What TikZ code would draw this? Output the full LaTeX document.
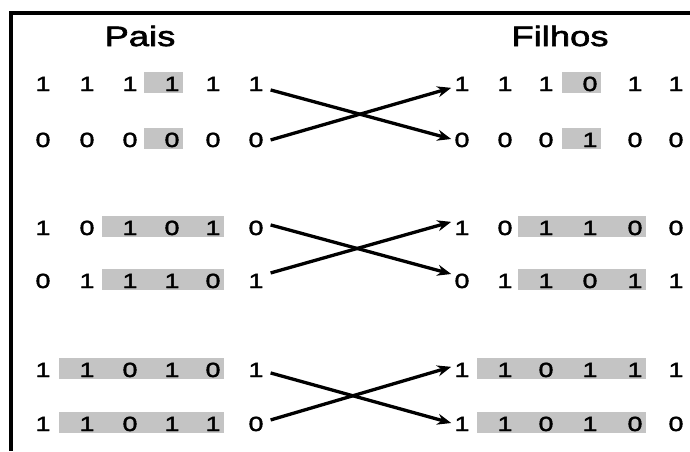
\documentclass[tikz,border=0pt]{standalone}
\usepackage{fontspec}
\setmainfont[FakeStretch=1.3, FakeBold=2.2]{Liberation Sans}
\usetikzlibrary{arrows.meta,backgrounds,calc}

\begin{document}
\begin{tikzpicture}[x=1pt, y=-1pt, > = {Stealth[length=14pt,width=11pt]}] % y grows downwards here
  \tikzset{
    bit/.style={anchor=base, inner xsep=7pt, inner ysep=1pt, font=\fontsize{20.5}{21}\selectfont},
    title/.style={anchor=base, font=\fontsize{28}{30}\selectfont},
    cut/.style={fill=black!23},
    swap/.style={->, line width=3.3pt, shorten >=-4pt}
  }
  \useasboundingbox (0,0) rectangle (690,451);
  \draw[line width=3.4pt] (690,13) -- (11,13) -- (11,451);

  \node[title] (pais) at (140,46) {Pais};
  \node[title] (filhos) at (560,46) {Filhos};

  % parents: nodes p11 ... p66
  \foreach \r/\y/\bits in {1/91/{1,1,1,1,1,1}, 2/147/{0,0,0,0,0,0},
                           3/235/{1,0,1,0,1,0}, 4/288/{0,1,1,1,0,1},
                           5/377/{1,1,0,1,0,1}, 6/431/{1,1,0,1,1,0}}
    \foreach \b [count=\c] in \bits {
      \pgfmathsetmacro\x{{43,87,130,172,213,256}[\c-1]}
      \node[bit] (p\r\c) at (\x,\y) {\b};
    }

  % children: nodes f11 ... f66
  \foreach \r/\y/\bits in {1/91/{1,1,1,0,1,1}, 2/147/{0,0,0,1,0,0},
                           3/235/{1,0,1,1,0,0}, 4/288/{0,1,1,0,1,1},
                           5/377/{1,1,0,1,1,1}, 6/431/{1,1,0,1,0,0}}
    \foreach \b [count=\c] in \bits {
      \pgfmathsetmacro\x{{462,505,546,590,635,676}[\c-1]}
      \node[bit] (f\r\c) at (\x,\y) {\b};
    }

  % grey bars behind the exchanged genes
  \begin{scope}[on background layer]
    \foreach \a/\b in {p14/p14, p24/p24, p33/p35, p43/p45, p52/p55, p62/p65,
                       f14/f14, f24/f24, f33/f35, f43/f45, f52/f55, f62/f65}
      \fill[cut] ($(\a.base)+(-28,-19.5)$) rectangle ($(\b.base)+(11,2)$);
  \end{scope}

  % crossover arrows
  \draw[swap] ([yshift=-6pt]p16.east) -- ([yshift=2pt]f21.west);
  \draw[swap] (p26.east) -- ([yshift=-5pt]f11.west);
  \draw[swap] ([yshift=3pt]p36.east) -- ([yshift=8pt]f41.west);
  \draw[swap] ([yshift=8pt]p46.east) -- ([yshift=5pt]f31.west);
  \draw[swap] ([yshift=-3pt]p56.east) -- ([yshift=2pt]f61.west);
  \draw[swap] ([yshift=4pt]p66.east) -- ([yshift=2pt]f51.west);
\end{tikzpicture}
\end{document}
